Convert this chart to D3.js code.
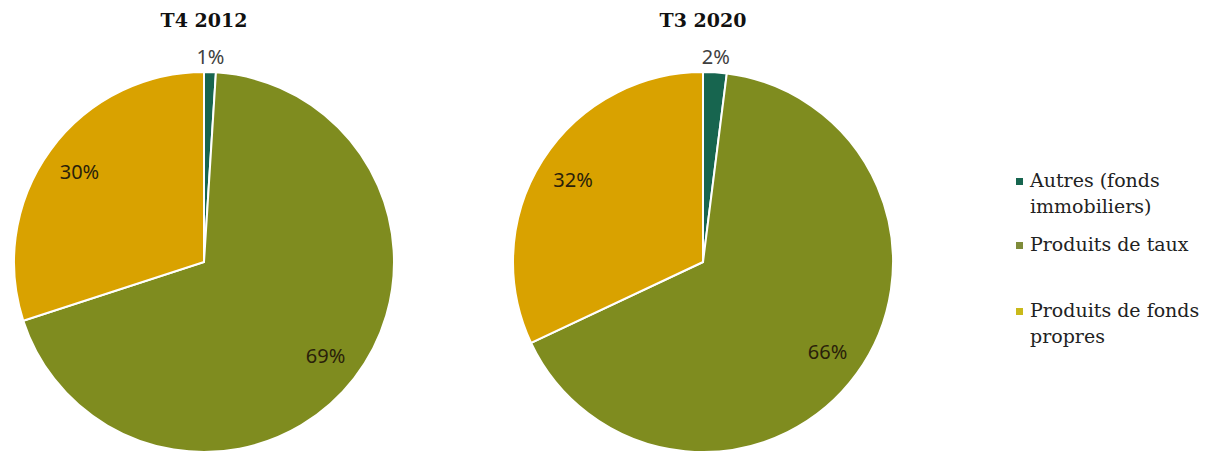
<!DOCTYPE html>
<html>
<head>
<meta charset="utf-8">
<script src="https://cdn.jsdelivr.net/npm/d3@7"></script>
<style>
  body { margin: 0; background: #fff; }
</style>
</head>
<body>
<svg id="chart" width="1213" height="452"></svg>
<script>
var categories = ["Autres (fonds immobiliers)", "Produits de taux", "Produits de fonds propres"];
var legendLines = [["Autres (fonds", "immobiliers)"], ["Produits de taux"], ["Produits de fonds", "propres"]];
var titles = ["T4 2012", "T3 2020"];
var values2012 = [1, 69, 30];
var values2020 = [2, 66, 32];
var sliceColors = ["#17654f", "#7f8c1f", "#d9a200"];
var legendColors = ["#17654f", "#7f8c3a", "#c9b91a"];

var svg = d3.select("#chart");
var r = 190;
var centers = [[204, 262], [703, 262]];

var pie = d3.pie().sort(null).value(function (d) { return d; });
var arc = d3.arc().innerRadius(0).outerRadius(r);
var labelArc = d3.arc().innerRadius(r * 0.81).outerRadius(r * 0.81);
var outArc = d3.arc().innerRadius(r * 1.08).outerRadius(r * 1.08);

[values2012, values2020].forEach(function (vals, i) {
  var g = svg.append("g").attr("transform", "translate(" + centers[i][0] + "," + centers[i][1] + ")");
  var arcs = pie(vals);
  g.selectAll("path")
    .data(arcs)
    .enter()
    .append("path")
    .attr("d", arc)
    .attr("fill", function (d, j) { return sliceColors[j]; })
    .attr("stroke", "#fff")
    .attr("stroke-width", 2);
  g.selectAll("text.lbl")
    .data(arcs)
    .enter()
    .append("text")
    .attr("class", "lbl")
    .attr("transform", function (d) {
      var p = d.value < 5 ? outArc.centroid(d) : labelArc.centroid(d);
      return "translate(" + p + ")";
    })
    .attr("text-anchor", "middle")
    .attr("dy", "0.35em")
    .style("font-family", "'Noto Sans', sans-serif")
    .style("font-size", "20px")
    .attr("fill", function (d) { return d.value < 5 ? "#404040" : "#2a1f0a"; })
    .text(function (d) { return d.value + "%"; });
  svg.append("text")
    .attr("x", centers[i][0])
    .attr("y", 27)
    .attr("text-anchor", "middle")
    .style("font-family", "'DejaVu Serif', serif")
    .style("font-weight", "bold")
    .style("font-size", "19px")
    .attr("fill", "#111")
    .text(titles[i]);
});

var legendY = [187, 251, 317];
var lg = svg.append("g");
categories.forEach(function (c, i) {
  lg.append("rect")
    .attr("x", 1016)
    .attr("y", legendY[i] - 9)
    .attr("width", 7)
    .attr("height", 7)
    .attr("fill", legendColors[i]);
  var t = lg.append("text")
    .attr("x", 1030)
    .attr("y", legendY[i])
    .style("font-family", "'DejaVu Serif', serif")
    .style("font-size", "19px")
    .attr("fill", "#222");
  legendLines[i].forEach(function (line, k) {
    t.append("tspan").attr("x", 1030).attr("dy", k === 0 ? 0 : 26).text(line);
  });
});
</script>
</body>
</html>
